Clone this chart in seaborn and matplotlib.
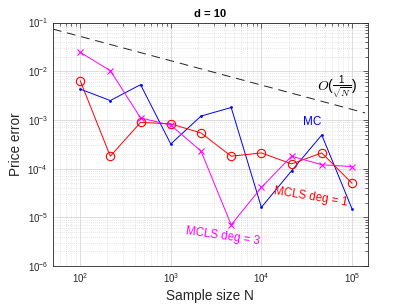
import numpy as np
import matplotlib
matplotlib.use("Agg")
import matplotlib.pyplot as plt
import seaborn as sns

# sample sizes (log spaced) and price errors
sample_size = [100, 215, 464, 1000, 2154, 4642, 10000, 21544, 46416, 100000]
mc_error = [4.3e-3, 2.5e-3, 5.3e-3, 3.2e-4, 1.2e-3, 1.8e-3, 1.6e-5, 9.0e-5, 4.9e-4, 1.5e-5]
mcls1_error = [6.4e-3, 1.8e-4, 8.9e-4, 8.3e-4, 5.4e-4, 1.8e-4, 2.1e-4, 1.25e-4, 2.1e-4, 5.0e-5]
mcls3_error = [2.45e-2, 1.03e-2, 1.1e-3, 7.8e-4, 2.3e-4, 7.0e-6, 4.1e-5, 1.8e-4, 1.2e-4, 1.1e-4]

# reference rate C / sqrt(N)
rate_n = [50, 140000]
rate_c = 0.52

sns.set_style("white")
plt.rcParams["font.family"] = ["Liberation Sans", "DejaVu Sans"]
plt.rcParams["mathtext.default"] = "regular"

axis_gray = "#262626"

fig = plt.figure(figsize=(4.07, 3.05), dpi=100)
ax = fig.add_axes([0.130, 0.128, 0.774, 0.798])

sns.lineplot(x=sample_size, y=mc_error, ax=ax, color="#0000ff", lw=0.7,
             marker=".", markersize=4, markeredgewidth=0)
sns.lineplot(x=sample_size, y=mcls1_error, ax=ax, color="#ff0000", lw=0.7,
             marker="o", markersize=6, markerfacecolor="none",
             markeredgecolor="#ff0000", markeredgewidth=0.8)
sns.lineplot(x=sample_size, y=mcls3_error, ax=ax, color="#ff00ff", lw=0.7,
             marker="x", markersize=4.5, markeredgecolor="#ff00ff",
             markeredgewidth=0.8)

rate_y = [rate_c / np.sqrt(n) for n in rate_n]
ax.plot(rate_n, rate_y, color="#222222", lw=0.7, dashes=(9, 6))

ax.set_xscale("log")
ax.set_yscale("log")
ax.set_xlim(50, 1.5e5)
ax.set_ylim(1e-6, 1e-1)

ax.grid(True, which="major", color="#d8d8d8", lw=0.6, ls="-")
ax.grid(True, which="minor", color="#cccccc", lw=0.5, ls=(0, (1, 2)))
ax.set_axisbelow(True)

ax.tick_params(which="both", direction="in", top=True, right=True,
               colors=axis_gray, labelsize=7, width=0.5)
ax.tick_params(which="major", length=3.5)
ax.tick_params(which="minor", length=2)
ax.set_yticks([1e-6, 1e-5, 1e-4, 1e-3, 1e-2, 1e-1])
ax.set_xticks([1e2, 1e3, 1e4, 1e5])
for s in ax.spines.values():
    s.set_color(axis_gray)
    s.set_linewidth(0.6)

ax.set_title("d = 10", fontsize=8, fontweight="bold", color="black", pad=4)
ax.set_xlabel("Sample size N", fontsize=9.8, color=axis_gray, labelpad=3)
ax.set_ylabel("Price error", fontsize=9.8, color=axis_gray, labelpad=3)

ax.text(4.1e4, 4.6e-3, r"$\mathit{O}(\frac{1}{\sqrt{\mathit{N}}})$", fontsize=10,
        color="black", ha="left", va="center", math_fontfamily="cm")
ax.text(3.6e4, 9e-4, "MC", fontsize=8.5, color="#0000ff", ha="center", va="center")
ax.text(3.5e4, 2.6e-5, "MCLS deg = 1", fontsize=8.3, color="#ff0000",
        ha="center", va="center", rotation=-9)
ax.text(3.7e3, 4.1e-6, "MCLS deg = 3", fontsize=8.3, color="#ff00ff",
        ha="center", va="center", rotation=-8)

fig.savefig("out.png", dpi=100)
